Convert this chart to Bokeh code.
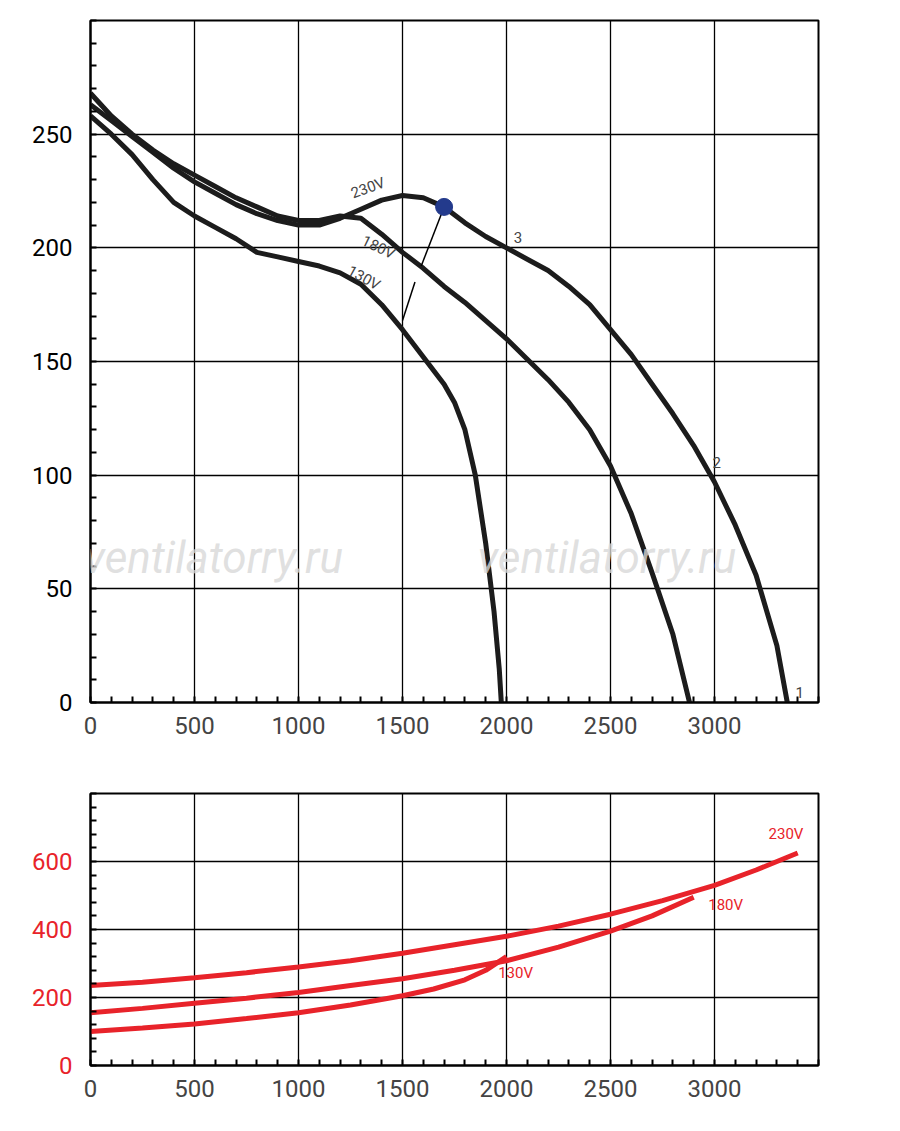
import re
from bokeh.plotting import figure
from bokeh.layouts import column
from bokeh.models import Label, FixedTicker
from bokeh.embed import file_html
from bokeh.resources import INLINE

# pressure curves
q230 = [0,100,200,300,400,500,600,700,800,900,1000,1100,1200,1300,1400,1500,1600,1700,1800,1900,2000,2100,2200,2300,2400,2500,2600,2700,2800,2900,3000,3100,3200,3300,3350]
p230 = [263,256,249,242,235,229,224,219,215,212,210,210,213,217,221,223,222,218,211,205,200,195,190,183,175,164,153,140,127,113,97,78,56,25,0]
q180 = [0,100,200,300,400,500,600,700,800,900,1000,1100,1200,1300,1400,1500,1600,1700,1800,1900,2000,2100,2200,2300,2400,2500,2600,2700,2800,2880]
p180 = [268,258,250,243,237,232,227,222,218,214,212,212,214,213,206,198,191,183,176,168,160,151,142,132,120,104,83,57,30,0]
q130 = [0,100,200,300,400,500,600,700,800,900,1000,1100,1200,1300,1400,1500,1600,1700,1750,1800,1850,1900,1940,1965,1975]
p130 = [258,250,241,230,220,214,209,204,198,196,194,192,189,184,175,164,152,140,132,120,100,70,40,15,0]
op_q, op_p = 1700, 218
# power curves
w230q = [0,250,500,750,1000,1250,1500,1750,2000,2250,2500,2750,3000,3200,3400]
w230 = [235,245,258,273,290,308,330,355,380,410,445,485,530,575,625]
w180q = [0,250,500,750,1000,1250,1500,1750,2000,2250,2500,2700,2900]
w180 = [155,168,183,198,215,235,255,280,308,348,395,440,495]
w130q = [0,250,500,750,1000,1250,1500,1650,1800,1900,2000]
w130 = [100,110,122,138,155,178,205,225,252,280,320]

FONT = "Roboto"
RED = "#e8232a"

def style(p, ycol, yticks, yminor):
    p.xaxis.ticker = FixedTicker(ticks=[0, 500, 1000, 1500, 2000, 2500, 3000],
                                 minor_ticks=list(range(0, 3501, 100)))
    p.yaxis.ticker = FixedTicker(ticks=yticks, minor_ticks=yminor)
    for ax in (p.xaxis, p.yaxis):
        ax.major_label_text_font = FONT
        ax.major_label_text_font_size = "24px"
        ax.major_tick_out = 0
        ax.major_tick_in = 0
        ax.minor_tick_in = 6
        ax.minor_tick_out = 0
        ax.axis_line_color = "black"
        ax.axis_line_width = 2
        ax.minor_tick_line_color = "black"
        ax.minor_tick_line_width = 2
    p.xaxis.major_label_standoff = 14
    p.yaxis.major_label_standoff = 18
    p.yaxis.major_label_text_color = ycol
    p.grid.grid_line_color = "black"
    p.grid.grid_line_width = 1.3
    p.outline_line_color = "black"
    p.outline_line_width = 2
    p.xgrid.ticker = FixedTicker(ticks=[500, 1000, 1500, 2000, 2500, 3000])

p1 = figure(frame_width=728, frame_height=682, min_border_left=90, min_border_right=82,
            min_border_top=20, min_border_bottom=58, x_range=(0, 3500), y_range=(0, 300),
            output_backend="svg", toolbar_location=None)
style(p1, "black", [0, 50, 100, 150, 200, 250], list(range(0, 301, 10)))
p1.ygrid.ticker = FixedTicker(ticks=[50, 100, 150, 200, 250])

for xx in (-30, 1860):
    p1.add_layout(Label(x=xx, y=52, text="ventilatorry.ru", text_font=FONT, text_font_style="italic",
                        text_font_size="44px", text_color="#d8d8d8", text_alpha=0.8))
for q, pv in ((q230, p230), (q180, p180), (q130, p130)):
    p1.line(q, pv, line_width=5, line_color="#1c1c1c", line_join="round")
p1.line([1500, 1560], [168, 185], line_width=1.5, color="black")
p1.line([1590, 1700], [192, 218], line_width=1.5, color="black")
p1.scatter([op_q], [op_p], size=17, color="#233a8c")
for txt, x, y, a in (("230V", 1270, 220, 0.35), ("180V", 1290, 200, -0.45), ("130V", 1220, 187, -0.5)):
    p1.add_layout(Label(x=x, y=y, text=txt, angle=a, text_font=FONT, text_font_size="15px"))
for txt, x, y in (("3", 2035, 202), ("2", 2990, 103), ("1", 3390, 2)):
    p1.add_layout(Label(x=x, y=y, text=txt, text_font=FONT, text_font_size="15px"))

p2 = figure(frame_width=728, frame_height=272, min_border_left=90, min_border_right=82,
            min_border_top=33, min_border_bottom=55, x_range=(0, 3500), y_range=(0, 800),
            output_backend="svg", toolbar_location=None)
style(p2, RED, [0, 200, 400, 600], list(range(0, 801, 40)))
p2.ygrid.ticker = FixedTicker(ticks=[200, 400, 600])
for q, w in ((w230q, w230), (w180q, w180), (w130q, w130)):
    p2.line(q, w, line_width=5, color=RED)
for txt, x, y in (("230V", 3260, 655), ("180V", 2970, 445), ("130V", 1960, 245)):
    p2.add_layout(Label(x=x, y=y, text=txt, text_font=FONT, text_font_size="15px", text_color=RED))

lay = column(p1, p2, spacing=0)
html = file_html(lay, INLINE)

def tag(txt, left, top, size, color="black"):
    return (f'<div style="position:absolute;left:{left}px;top:{top}px;font-family:Roboto;'
            f'font-size:{size}px;color:{color};line-height:1;white-space:nowrap;z-index:10">{txt}</div>')
overlay = (tag('p<span style="font-size:16px">sf</span>', 24, 4, 28)
           + tag('[Pa]', 22, 42, 21)
           + tag('q<sub style="font-size:13px">V</sub><span style="font-size:20px">[m<sup style="font-size:12px">3</sup>/h]</span>', 782, 726, 26)
           + tag('P<span style="font-size:21px">[W]</span>', 15, 778, 28, RED)
           + tag('q<sub style="font-size:13px">V</sub><span style="font-size:20px">[m<sup style="font-size:12px">3</sup>/h]</span>', 782, 1088, 26))
html = re.sub(r"(<body[^>]*>)", lambda m: m.group(1) + overlay, html, count=1)
open("out.html", "w").write(html)
